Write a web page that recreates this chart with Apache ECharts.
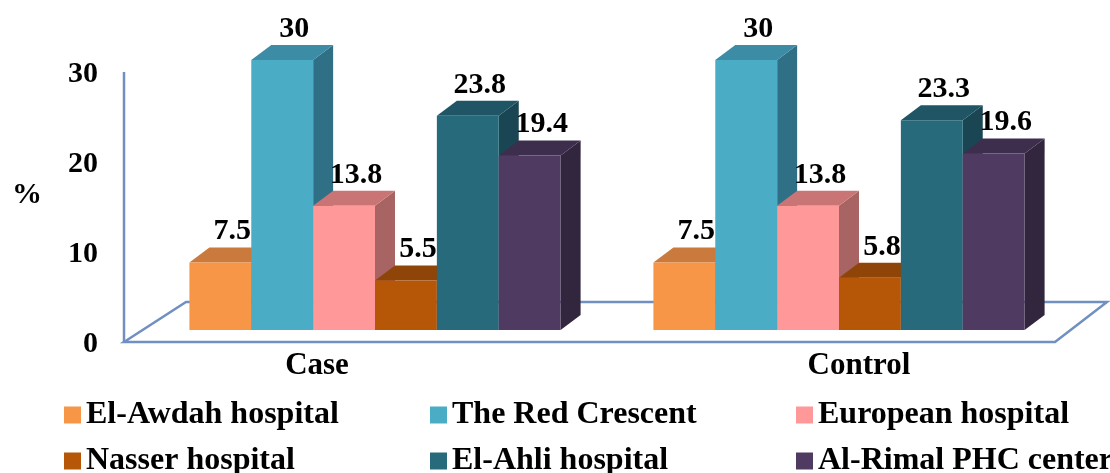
<!DOCTYPE html>
<html>
<head>
<meta charset="utf-8">
<script src="https://cdn.jsdelivr.net/npm/echarts@6/dist/echarts.min.js"></script>
<style>
html, body { margin: 0; padding: 0; background: #fff; }
#main { width: 1110px; height: 473px; }
</style>
</head>
<body>
<div id="main"></div>
<script>
var categories = ['Case', 'Control'];
var hospitals = ['El-Awdah hospital', 'The Red Crescent', 'European hospital',
                 'Nasser hospital', 'El-Ahli hospital', 'Al-Rimal PHC center'];
var elAwdah = [7.5, 7.5];
var redCrescent = [30, 30];
var european = [13.8, 13.8];
var nasser = [5.5, 5.8];
var elAhli = [23.8, 23.3];
var alRimal = [19.4, 19.6];
var yTicks = [0, 10, 20, 30];

var values = [elAwdah, redCrescent, european, nasser, elAhli, alRimal];
// front, top, side
var colors = [
  ['#F79646', '#C97A3C', '#B06A32'],
  ['#4BACC6', '#3B8CA4', '#2F7086'],
  ['#FF9999', '#C97575', '#A86363'],
  ['#B65708', '#8E4507', '#773A06'],
  ['#276A7C', '#1F5565', '#1A4653'],
  ['#4F3B62', '#3D2E4D', '#32263F']
];
var font = "'Liberation Serif', 'Times New Roman', serif";
var lineColor = '#6F90C0';
// 3d depth of a bar
var DX = 20, DY = -15;

var myChart = echarts.init(document.getElementById('main'));

function barRender(idx) {
  return function (params, api) {
    var cat = api.value(0);
    var val = api.value(1);
    var top = api.coord([cat, val]);
    var base = api.coord([cat, 0]);
    var band = api.size([1, 0])[0];
    var w = band * 0.8 / hospitals.length;
    var x0 = top[0] - band * 0.4 + idx * w;
    var x1 = x0 + w;
    var yt = top[1], yb = base[1];
    var c = colors[idx];
    return {
      type: 'group',
      children: [
        { type: 'polygon', shape: { points: [[x1, yb], [x1 + DX, yb + DY], [x1 + DX, yt + DY], [x1, yt]] },
          style: { fill: c[2] } },
        { type: 'polygon', shape: { points: [[x0, yt], [x0 + DX, yt + DY], [x1 + DX, yt + DY], [x1, yt]] },
          style: { fill: c[1] } },
        { type: 'rect', shape: { x: x0, y: yt, width: w, height: yb - yt },
          style: { fill: c[0] } },
        { type: 'text', z2: 100, x: (x0 + x1) / 2 + 12, y: yt + DY - 1,
          style: { text: String(val), fill: '#000', font: 'bold 30px ' + font,
                   textAlign: 'center', textVerticalAlign: 'bottom' } }
      ]
    };
  };
}

// floor and left axis line of the 3d box
function floorRender(params, api) {
  var cs = params.coordSys;
  var yb = cs.y + cs.height;
  var fl = [cs.x - 19, yb + 12];
  var bl = [cs.x + 43, yb - 28];
  var br = [cs.x + cs.width + 36, yb - 28];
  var fr = [cs.x + cs.width - 16, yb + 12];
  return {
    type: 'group',
    children: [
      { type: 'polygon', shape: { points: [fl, bl, br, fr] },
        style: { fill: '#fff', stroke: lineColor, lineWidth: 2.5 } },
      { type: 'line', shape: { x1: fl[0], y1: fl[1], x2: fl[0], y2: cs.y + 12 },
        style: { stroke: lineColor, lineWidth: 2.5 } }
    ]
  };
}

var series = [{
  type: 'custom',
  name: 'floor',
  renderItem: floorRender,
  data: [[0, 0]],
  silent: true,
  z: 1
}];
hospitals.forEach(function (name, i) {
  series.push({
    type: 'custom',
    name: name,
    color: colors[i][0],
    renderItem: barRender(i),
    data: categories.map(function (c, k) { return [k, values[i][k]]; }),
    z: 2
  });
});

// two legend rows, columns kept aligned by a fixed text box width
var legendRich = {
  w: { fontFamily: font, fontWeight: 'bold', fontSize: 32, color: '#000', lineHeight: 17, width: 344 },
  n: { fontFamily: font, fontWeight: 'bold', fontSize: 32, color: '#000', lineHeight: 17 }
};
var legendTops = [399, 445];
var legends = legendTops.map(function (top, row) {
  return {
    orient: 'horizontal',
    left: 64,
    top: top,
    width: 1100,
    padding: 0,
    itemWidth: 17,
    itemHeight: 17,
    itemGap: 0,
    icon: 'rect',
    formatter: function (name) {
      var col = hospitals.indexOf(name) % 3;
      return (col < 2 ? '{w|' : '{n|') + name + '}';
    },
    textStyle: { rich: legendRich },
    data: hospitals.slice(row * 3, row * 3 + 3)
  };
});

var option = {
  animation: false,
  backgroundColor: '#fff',
  grid: { left: 143, right: 39, top: 60, bottom: 143 },
  legend: legends,
  xAxis: {
    type: 'category',
    data: categories,
    axisLine: { show: false },
    axisTick: { show: false },
    axisLabel: {
      margin: 20,
      formatter: function (v, i) { return '{c' + i + '|' + v + '}'; },
      rich: {
        c0: { fontFamily: font, fontWeight: 'bold', fontSize: 31, color: '#000', padding: [0, 116, 0, 0] },
        c1: { fontFamily: font, fontWeight: 'bold', fontSize: 31, color: '#000', padding: [0, 0, 0, 40] }
      }
    }
  },
  yAxis: {
    type: 'value',
    min: yTicks[0],
    max: yTicks[yTicks.length - 1],
    interval: yTicks[1] - yTicks[0],
    name: '%',
    nameLocation: 'middle',
    nameRotate: 0,
    nameGap: 116,
    nameTextStyle: { fontFamily: font, fontWeight: 'bold', fontSize: 30, color: '#000', align: 'center' },
    axisLine: { show: false },
    axisTick: { show: false },
    splitLine: { show: false },
    axisLabel: {
      margin: 45,
      verticalAlign: 'top',
      lineHeight: 28,
      fontFamily: font, fontWeight: 'bold', fontSize: 30, color: '#000'
    }
  },
  series: series
};

myChart.setOption(option);
</script>
</body>
</html>
